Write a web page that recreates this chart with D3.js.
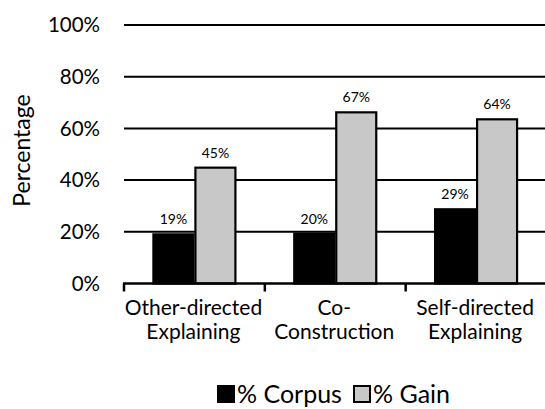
<!DOCTYPE html>
<html><head><meta charset="utf-8">
<script src="https://cdn.jsdelivr.net/npm/d3@7"></script>
<style>body{margin:0;background:#fff}svg{display:block}text{font-family:Lato,"Open Sans",sans-serif;fill:#000}</style>
</head><body><svg id="c" width="545" height="409"></svg>
<script>
const categories = [["Other-directed","Explaining"],["Co-","Construction"],["Self-directed","Explaining"]];
const series = ["% Corpus","% Gain"];
const corpus = [19.4, 19.7, 29.1];
const gain = [45.2, 66.6, 63.9];
const yTicks = [0,20,40,60,80,100];
const colors = {"% Corpus":"#000000","% Gain":"#c8c8c8"};

const svg = d3.select("#c");
const m = {l:124, r:545, t:25, b:283.5};
const x = d3.scaleBand().domain(d3.range(categories.length)).range([m.l, m.r+1.5]).paddingInner(0).paddingOuter(0);
const y = d3.scaleLinear().domain([0,100]).range([m.b, m.t]);
const x1 = d3.scaleBand().domain(series).range([0, 84]).padding(0);
const groupOff = (x.bandwidth()-84)/2;

// gridlines
svg.append("g").selectAll("line").data(yTicks.filter(d=>d>0)).join("line")
  .attr("x1", m.l).attr("x2", 545).attr("y1", d=>y(d)).attr("y2", d=>y(d))
  .attr("stroke","#000").attr("stroke-width",2);

// y labels
svg.append("g").selectAll("text").data(yTicks).join("text")
  .attr("x", 100).attr("y", d=>y(d)).attr("dy","0.36em").attr("text-anchor","end")
  .attr("font-size",20.5).text(d=>d+"%");

// bars
const data = [];
categories.forEach((c,i)=>{ data.push({i, s:"% Corpus", v:corpus[i]}); data.push({i, s:"% Gain", v:gain[i]}); });
const g = svg.append("g");
g.selectAll("rect").data(data).join("rect")
  .attr("x", d=>x(d.i)+groupOff+x1(d.s)+1)
  .attr("width", x1.bandwidth()-2)
  .attr("y", d=>y(d.v)+1).attr("height", d=>y(0)-y(d.v)-1)
  .attr("fill", d=>colors[d.s]).attr("stroke","#000").attr("stroke-width",2.2);

// value labels
g.selectAll("text").data(data).join("text")
  .attr("x", d=>x(d.i)+groupOff+x1(d.s)+x1.bandwidth()/2)
  .attr("y", d=>y(d.v)-9).attr("text-anchor","middle").attr("font-size",14)
  .text(d=>Math.round(d.v)+"%");

// x axis
svg.append("line").attr("x1",m.l-1).attr("x2",545).attr("y1",y(0)).attr("y2",y(0)).attr("stroke","#000").attr("stroke-width",2.5);
svg.append("g").selectAll("line").data(d3.range(categories.length)).join("line")
  .attr("x1", d=>x(d)).attr("x2", d=>x(d)).attr("y1", y(0)).attr("y2", y(0)+8)
  .attr("stroke","#000").attr("stroke-width",2.5);
const xl = svg.append("g").selectAll("text").data(categories).join("text")
  .attr("text-anchor","middle").attr("font-size",21);
xl.each(function(c,i){
  const t = d3.select(this);
  c.forEach((line,k)=>t.append("tspan").attr("x", x(i)+x.bandwidth()/2-1).attr("y", 315+k*24).text(line));
});

// y title
svg.append("text").attr("transform","translate(30,150.5) rotate(-90)").attr("text-anchor","middle")
  .attr("font-size",23).text("Percentage");

// legend
const lg = svg.append("g");
const lx = [217, 353];
series.forEach((s,k)=>{
  lg.append("rect").attr("x", lx[k]+1).attr("y", 386).attr("width",16).attr("height",16)
    .attr("fill", colors[s]).attr("stroke","#000").attr("stroke-width",2);
  lg.append("text").attr("x", lx[k]+20).attr("y", 403).attr("font-size",25).text(s);
});
</script></body></html>
